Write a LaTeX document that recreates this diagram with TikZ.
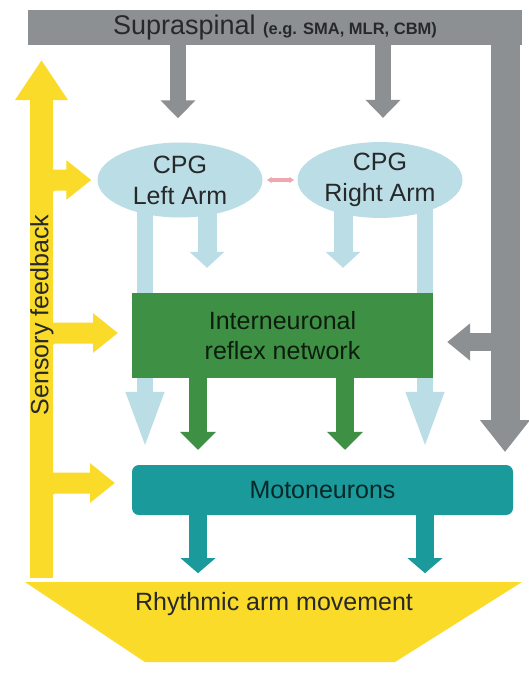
\documentclass[tikz,border=0pt]{standalone}
\usepackage{fontspec}
\setmainfont{Liberation Sans}
\usepackage{tikz}
\usetikzlibrary{arrows.meta,positioning,shapes.geometric}

\definecolor{supragray}{RGB}{141,144,146}
\definecolor{fbyellow}{RGB}{250,219,42}
\definecolor{cpgblue}{RGB}{186,221,230}
\definecolor{netgreen}{RGB}{62,145,68}
\definecolor{mototeal}{RGB}{26,154,155}
\definecolor{linkpink}{RGB}{242,166,176}
\definecolor{textdark}{RGB}{38,40,42}

\pgfdeclarelayer{back}
\pgfsetlayers{back,main}

\begin{document}
\begin{tikzpicture}[x=1pt, y=-1pt, font=\fontsize{25}{30}\selectfont]
        \tikzstyle{suprabar} = [rectangle, fill=supragray, minimum width=494pt, minimum height=35pt, inner sep=0pt, text=textdark]
        \tikzstyle{cpg} = [ellipse, fill=cpgblue, minimum width=165pt, minimum height=75pt, inner sep=0pt, align=center, text=textdark, font=\fontsize{25}{31}\selectfont]
        \tikzstyle{netbox} = [rectangle, fill=netgreen, minimum width=301pt, minimum height=85pt, align=center, text=black!80!netgreen, font=\fontsize{25}{30}\selectfont]
        \tikzstyle{motobox} = [rectangle, rounded corners=7pt, fill=mototeal, minimum width=381pt, minimum height=50pt, text=black!75!mototeal]
        \tikzstyle{grayarrow} = [draw=supragray, line width=16pt, -{Triangle[width=34pt,length=18pt]}]
        \tikzstyle{sidearrow} = [draw=supragray, line width=29pt, -{Triangle[width=48pt,length=32pt]}]
        \tikzstyle{fbarrow} = [draw=fbyellow, line width=23pt, -{Triangle[width=50pt,length=40pt]}]
        \tikzstyle{fbbranch} = [draw=fbyellow, line width=21pt, rounded corners=14pt, -{Triangle[width=38pt,length=25pt]}]
        \tikzstyle{cpgband} = [draw=cpgblue, line width=16pt, -{Triangle[width=34pt,length=58pt]}]
        \tikzstyle{cpgarrow} = [draw=cpgblue, line width=19pt, -{Triangle[width=34pt,length=16pt]}]
        \tikzstyle{netarrow} = [draw=netgreen, line width=18pt, -{Triangle[width=35pt,length=18pt]}]
        \tikzstyle{motoarrow} = [draw=mototeal, line width=18pt, -{Triangle[width=34pt,length=15pt]}]

        \begin{pgfonlayer}{back}
            \useasboundingbox[fill=white] (0,0) rectangle (527,677);
        \end{pgfonlayer}

        % supraspinal input
        \node (supra) [suprabar] at (275,27.5) {\fontsize{27}{30}\selectfont Supraspinal {\fontsize{16.5}{16.5}\selectfont\bfseries (e.g. SMA, MLR, CBM)}};
        \coordinate (sideTop) at (505,27.5);
        \coordinate (sideEnd) at (505,452);
        \draw[sidearrow] (sideTop) -- (sideEnd);

        % sensory feedback
        \coordinate (fbBase) at (41.5,578);
        \coordinate (fbTop) at (41.5,60);
        \draw[fbarrow] (fbBase) -- (fbTop);
        \node (fbtext) [rotate=90, text=textdark] at (42,315) {Sensory feedback};

        % CPGs
        \node (cpgL) [cpg] at (180,180) {CPG\\Left Arm};
        \node (cpgR) [cpg] at (380,180) {CPG\\Right Arm};
        \draw[grayarrow, shorten >=24pt] (supra.south -| 178,0) -- (cpgL.north -| 178,0);
        \draw[grayarrow, shorten >=24pt] (supra.south -| 383,0) -- (cpgR.north -| 383,0);
        \draw[linkpink, line width=3.5pt, {Latex[length=5pt,width=7pt]}-{Latex[length=5pt,width=7pt]}, shorten <=4pt, shorten >=3pt] (cpgL.east) -- (cpgR.west);

        \node (moto) [motobox] at (322.5,490) {Motoneurons};
        \node (inter) [netbox] at (282.5,335.5) {Interneuronal\\reflex network};

        \begin{pgfonlayer}{back}
            \draw[cpgband, shorten >=15pt] (cpgL.center -| 145,0) -- (moto.north -| 145,0);
            \draw[cpgband, shorten >=15pt] (cpgR.center -| 425,0) -- (moto.north -| 425,0);
            \draw[cpgarrow, shorten >=25pt] (cpgL.center -| 207,0) -- (inter.north -| 207,0);
            \draw[cpgarrow, shorten >=25pt] (cpgR.center -| 343,0) -- (inter.north -| 343,0);
            \draw[fbbranch] ([yshift=-35pt]fbTop |- cpgL.west) |- ([xshift=-6pt]cpgL.west);
            \draw[fbbranch] ([yshift=-35pt]fbTop |- 0,333) |- (118,333);
            \draw[fbbranch] ([yshift=-35pt]fbTop |- 0,483) |- (115,483);
        \end{pgfonlayer}

        % interneurons
        \draw[grayarrow, line width=18pt, -{Triangle[width=36pt,length=23pt]}] (sideTop |- 0,342) -- ([xshift=14pt,yshift=-6.5pt]inter.east);
        \draw[netarrow, shorten >=15pt] (inter.south -| 198,0) -- (moto.north -| 198,0);
        \draw[netarrow, shorten >=15pt] (inter.south -| 345,0) -- (moto.north -| 345,0);

        % movement
        \fill[fbyellow] (25,582) -- (522,582) -- (395,662) -- (145,662) -- cycle;
        \node (move) [text=textdark] at (274,604) {Rhythmic arm movement};
        \draw[motoarrow] (moto.south -| 198,0) -- ++(0,58);
        \draw[motoarrow] (moto.south -| 425,0) -- ++(0,58);
    \end{tikzpicture}
\end{document}
